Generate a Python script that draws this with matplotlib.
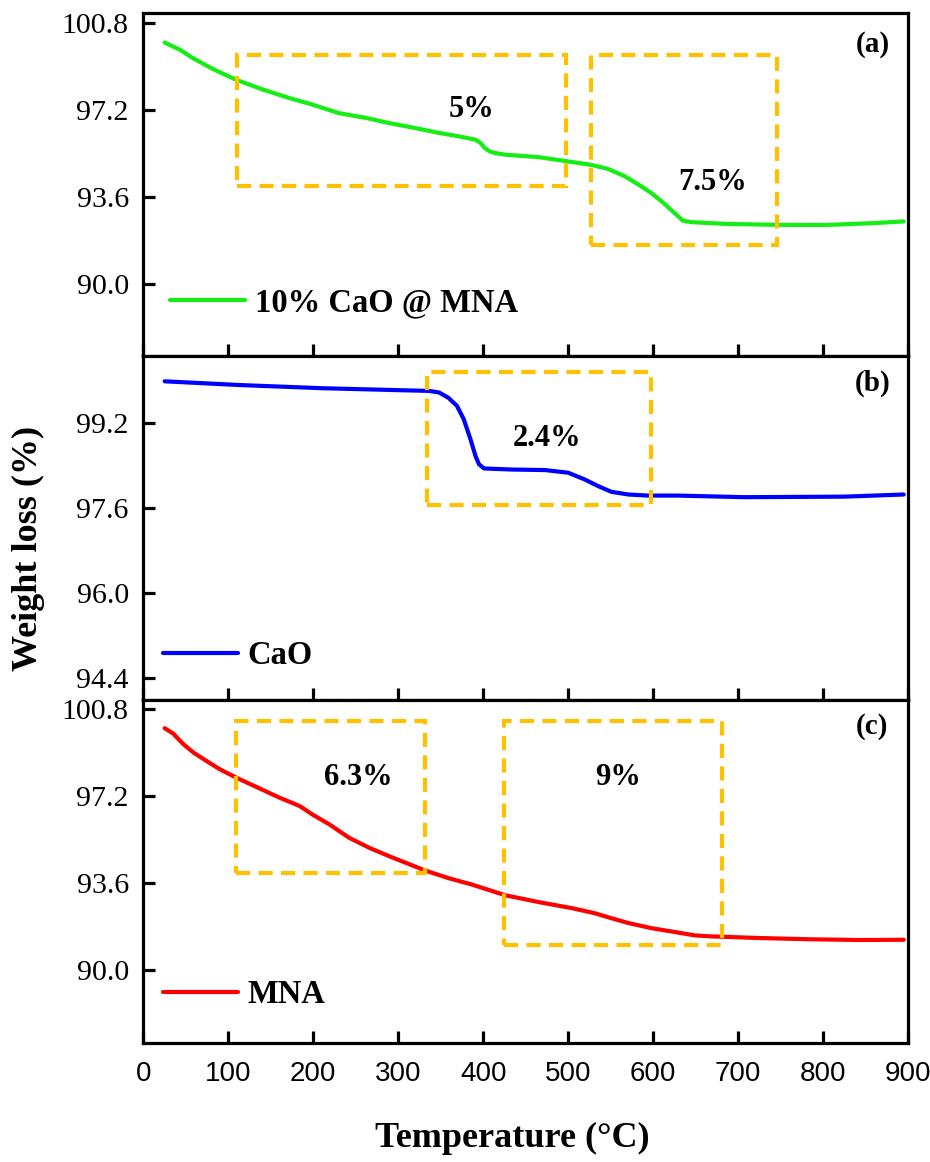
import matplotlib
matplotlib.use("Agg")
import matplotlib.pyplot as plt
from matplotlib.patches import Rectangle
from matplotlib.ticker import FixedLocator, FormatStrFormatter

# ---- data -------------------------------------------------------------
temp_a = [25, 43, 58, 82, 109, 141, 172, 199, 230, 262, 289, 320, 348, 371,
          391, 397, 402, 408, 414, 426, 465, 500, 527, 547, 567, 586, 598,
          610, 621, 635, 645, 684, 742, 801, 860, 895]
wt_a = [99.98, 99.68, 99.34, 98.88, 98.44, 98.03, 97.68, 97.41, 97.06, 96.86,
        96.65, 96.44, 96.24, 96.10, 95.96, 95.82, 95.61, 95.47, 95.41, 95.34,
        95.24, 95.06, 94.92, 94.75, 94.44, 94.03, 93.75, 93.41, 93.06, 92.61,
        92.55, 92.48, 92.44, 92.43, 92.51, 92.58]

temp_b = [25, 113, 211, 309, 336, 348, 359, 369, 377, 385, 391, 395, 401,
          434, 473, 500, 520, 535, 551, 571, 594, 629, 707, 825, 895]
wt_b = [99.99, 99.92, 99.86, 99.82, 99.81, 99.78, 99.68, 99.53, 99.28, 98.90,
        98.58, 98.43, 98.35, 98.33, 98.32, 98.27, 98.14, 98.02, 97.91, 97.86,
        97.84, 97.84, 97.81, 97.82, 97.86]

temp_c = [25, 35, 47, 59, 74, 90, 109, 133, 160, 184, 199, 219, 242, 266,
          289, 309, 332, 359, 387, 426, 465, 504, 531, 551, 571, 598, 629,
          649, 668, 727, 785, 844, 895]
wt_c = [100.02, 99.80, 99.36, 99.01, 98.67, 98.32, 97.98, 97.59, 97.15, 96.80,
        96.45, 96.04, 95.49, 95.07, 94.73, 94.45, 94.13, 93.82, 93.55, 93.11,
        92.83, 92.58, 92.37, 92.16, 91.96, 91.75, 91.57, 91.45, 91.41, 91.34,
        91.29, 91.26, 91.27]

series_names = ["10% CaO @ MNA", "CaO", "MNA"]
series_colors = ["#14ee14", "#0000ff", "#ff0000"]
panel_tags = ["(a)", "(b)", "(c)"]

yticks_ac = [90.0, 93.6, 97.2, 100.8]
yticks_b = [94.4, 96.0, 97.6, 99.2]
xticks = [0, 100, 200, 300, 400, 500, 600, 700, 800, 900]

# (T_start, T_end, wt_low, wt_high) for each highlighted stage
boxes_a = [(110, 498, 94.05, 99.48), (527, 746, 91.60, 99.48)]
boxes_b = [(334, 597, 97.66, 100.16)]
boxes_c = [(109, 331, 94.03, 100.30), (425, 681, 91.05, 100.30)]

# (label, T, wt) for stage annotations
notes_a = [("5%", 386, 96.91), ("7.5%", 670, 93.89)]
notes_b = [("2.4%", 475, 98.77)]
notes_c = [("6.3%", 253, 97.69), ("9%", 559, 97.69)]

# ---- style ------------------------------------------------------------
serif = "Liberation Serif"
sans = "Liberation Sans"
box_color = "#ffc000"
spine_w = 2.3

fig = plt.figure(figsize=(9.3, 11.62), dpi=100)
left, right = 143.4 / 930, 908 / 930
top_px, bot_px = 13, 1043
panel_h = (bot_px - top_px) / 3

axes = []
for i in range(3):
    y0 = 1 - (top_px + (i + 1) * panel_h) / 1162
    ax = fig.add_axes([left, y0, right - left, panel_h / 1162])
    axes.append(ax)

datasets = [(temp_a, wt_a), (temp_b, wt_b), (temp_c, wt_c)]
ylims = [(87.0, 101.2), (94.0, 100.46), (87.0, 101.2)]
yticks_all = [yticks_ac, yticks_b, yticks_ac]
boxes_all = [boxes_a, boxes_b, boxes_c]
notes_all = [notes_a, notes_b, notes_c]
tag_y = [99.6, 99.82, 99.8]
legend_anchor = [(0.0348, 0.1545), (0.0256, 0.128), (0.0256, 0.14)]

for i, ax in enumerate(axes):
    t, w = datasets[i]
    ax.plot(t, w, color=series_colors[i], lw=3.0, solid_capstyle="round",
            solid_joinstyle="round", label=series_names[i])
    ax.set_xlim(0, 900)
    ax.set_ylim(*ylims[i])

    for (x0, x1, ylo, yhi) in boxes_all[i]:
        ax.add_patch(Rectangle((x0, ylo), x1 - x0, yhi - ylo, fill=False,
                               edgecolor=box_color, lw=3.0,
                               linestyle=(0, (3.4, 2.0)), joinstyle="miter",
                               zorder=3))
    for (txt, x, y) in notes_all[i]:
        ax.text(x, y, txt, ha="center", va="baseline", fontsize=22,
                fontweight="bold", family=serif)
    ax.text(858, tag_y[i], panel_tags[i], ha="center", va="baseline",
            fontsize=21, fontweight="bold", family=serif)

    leg = ax.legend(loc="center left", bbox_to_anchor=legend_anchor[i],
                    frameon=False, handlelength=2.3, handletextpad=0.3,
                    borderpad=0, borderaxespad=0,
                    prop={"family": serif, "weight": "bold", "size": 23.5})
    for h in leg.get_lines():
        h.set_linewidth(3.0)

    for s in ax.spines.values():
        s.set_linewidth(spine_w)
    ax.yaxis.set_major_locator(FixedLocator(yticks_all[i]))
    ax.yaxis.set_major_formatter(FormatStrFormatter("%.1f"))
    ax.xaxis.set_major_locator(FixedLocator(xticks))
    ax.tick_params(axis="both", direction="in", length=8.5, width=spine_w,
                   top=False, right=False)
    ax.tick_params(axis="y", pad=10.5)
    for lab in ax.get_yticklabels():
        lab.set_family(serif)
        lab.set_fontsize(21.5)
    if i < 2:
        ax.tick_params(axis="x", labelbottom=False)
    else:
        ax.tick_params(axis="x", pad=13)
        for lab in ax.get_xticklabels():
            lab.set_family(sans)
            lab.set_fontsize(20)

fig.text(28 / 930, 1 - 548 / 1162, "Weight loss (%)", rotation=90,
         ha="center", va="center", fontsize=26, fontweight="bold", family=serif)
fig.text(512 / 930, 1 - 1138 / 1162, "Temperature (\u00b0C)", ha="center",
         va="center", fontsize=26, fontweight="bold", family=serif)

fig.savefig("out.png", dpi=100)
